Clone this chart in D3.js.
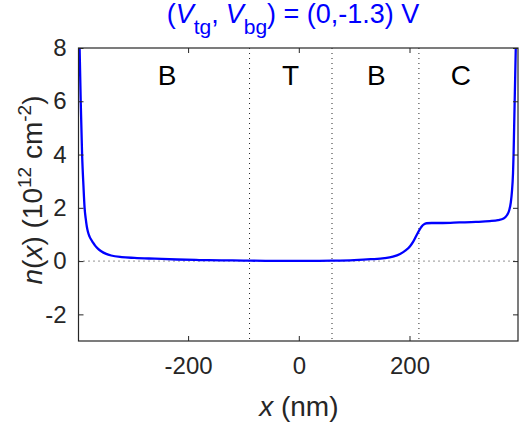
<!DOCTYPE html>
<html><head><meta charset="utf-8">
<script src="https://cdn.jsdelivr.net/npm/d3@7"></script>
<style>body{margin:0;background:#fff}svg{display:block}text{font-family:"Liberation Sans",Arial,Helvetica,sans-serif}</style>
</head><body><svg id="c" width="525" height="426"></svg>
<script>
const xPos = [-396,-394,-391.5,-389,-387,-385,-383,-381,-378,-375,-372,-368,-363,-357,-348,-339,-320,-297,-260,-220,-180,-140,-100,-60,-20,20,60,100,130,155,170,183,193,201,207,213,218,222,226,231,240,260,290,320,345,360,370,376,380,383,385,387,388,389,390,391,392];
const nVal = [8.0,6.0,4.0,2.8,2.0,1.6,1.3,1.1,0.92,0.8,0.7,0.58,0.47,0.37,0.27,0.21,0.15,0.12,0.09,0.06,0.04,0.03,0.02,0.01,0.01,0.01,0.02,0.04,0.07,0.11,0.17,0.27,0.40,0.56,0.74,0.98,1.17,1.30,1.38,1.42,1.43,1.43,1.45,1.47,1.50,1.54,1.60,1.72,1.90,2.20,2.60,3.30,4.00,5.00,6.00,7.00,8.00];
const xTicks = [-200,0,200];
const yTicks = [-2,0,2,4,6,8];
const regionBounds = [-89,60,217];
const regionLabels = ["B","T","B","C"];
const regionLabelX = [-238,-15,140,293];

const L=78.5,R=518,T=48,B=341;
const svg=d3.select("#c");
const x=d3.scaleLinear().domain([-398,396]).range([L,R]);
const y=d3.scaleLinear().domain([-3,8]).range([B,T]);
const ink="#262626";

svg.append("clipPath").attr("id","clip").append("rect").attr("x",L).attr("y",T).attr("width",R-L).attr("height",B-T);

// dotted zero line
svg.append("line").attr("x1",L).attr("x2",R).attr("y1",y(0)).attr("y2",y(0))
  .attr("stroke",ink).attr("stroke-width",1).attr("stroke-dasharray","1,4");
// region boundaries
svg.selectAll("line.rb").data(regionBounds).join("line").attr("class","rb")
  .attr("x1",d=>x(d)).attr("x2",d=>x(d)).attr("y1",T).attr("y2",B)
  .attr("stroke",ink).attr("stroke-width",1).attr("stroke-dasharray","1,4");

// curve
const pts=xPos.map((v,i)=>[v,nVal[i]]);
svg.append("path").datum(pts).attr("clip-path","url(#clip)")
  .attr("d",d3.line().x(d=>x(d[0])).y(d=>y(d[1])).curve(d3.curveMonotoneX))
  .attr("fill","none").attr("stroke","#0000ff").attr("stroke-width",2.3);

// axes
const fs=24;
const fmt=d=>String(d);
const ax=d3.axisBottom(x).tickValues(xTicks).tickSize(-5).tickPadding(16).tickFormat(fmt);
svg.append("g").attr("transform",`translate(0,${B})`).call(ax);
const axT=d3.axisTop(x).tickValues(xTicks).tickSize(-5).tickFormat("");
svg.append("g").attr("transform",`translate(0,${T})`).call(axT);
const ay=d3.axisLeft(y).tickValues(yTicks).tickSize(-5).tickPadding(12).tickFormat(fmt);
svg.append("g").attr("transform",`translate(${L},0)`).call(ay);
const ayR=d3.axisRight(y).tickValues(yTicks).tickSize(-5).tickFormat("");
svg.append("g").attr("transform",`translate(${R},0)`).call(ayR);
svg.selectAll(".domain").remove();
svg.selectAll(".tick line").attr("stroke",ink);
svg.selectAll(".tick text").attr("fill",ink).attr("font-size",fs).attr("font-family","Liberation Sans, Arial, sans-serif");
svg.append("rect").attr("x",L).attr("y",T).attr("width",R-L).attr("height",B-T).attr("fill","none").attr("stroke",ink).attr("stroke-width",1.2);

// region labels
svg.selectAll("text.rl").data(regionLabels).join("text").attr("class","rl")
  .attr("x",(d,i)=>x(regionLabelX[i])).attr("y",85).attr("text-anchor","middle")
  .attr("font-size",28).attr("fill","#000").text(d=>d);

// x label
const xl=svg.append("text").attr("x",x(0)).attr("y",416).attr("text-anchor","middle").attr("font-size",28).attr("fill",ink);
xl.append("tspan").attr("font-style","italic").text("x");
xl.append("tspan").text(" (nm)");

// y label
const yl=svg.append("text").attr("transform",`translate(42,190) rotate(-90)`).attr("text-anchor","middle").attr("font-size",28).attr("fill",ink);
yl.append("tspan").attr("font-style","italic").text("n");
yl.append("tspan").text("(");
yl.append("tspan").attr("font-style","italic").text("x");
yl.append("tspan").text(") (10");
yl.append("tspan").attr("font-size",19).attr("dy",-11).text("12");
yl.append("tspan").attr("dy",11).text(" cm");
yl.append("tspan").attr("font-size",19).attr("dy",-11).text("-2");
yl.append("tspan").attr("dy",11).text(")");

// title
const tt=svg.append("text").attr("x",293).attr("y",23).attr("text-anchor","middle").attr("font-size",27).attr("fill","#0000ff");
tt.append("tspan").text("(");
tt.append("tspan").attr("font-style","italic").text("V");
tt.append("tspan").attr("font-size",21).attr("dy",11).text("tg");
tt.append("tspan").attr("dy",-11).text(",");
tt.append("tspan").attr("font-style","italic").attr("dx",7).text("V");
tt.append("tspan").attr("font-size",21).attr("dy",11).text("bg");
tt.append("tspan").attr("dy",-11).text(") = (0,-1.3) V");
</script></body></html>
